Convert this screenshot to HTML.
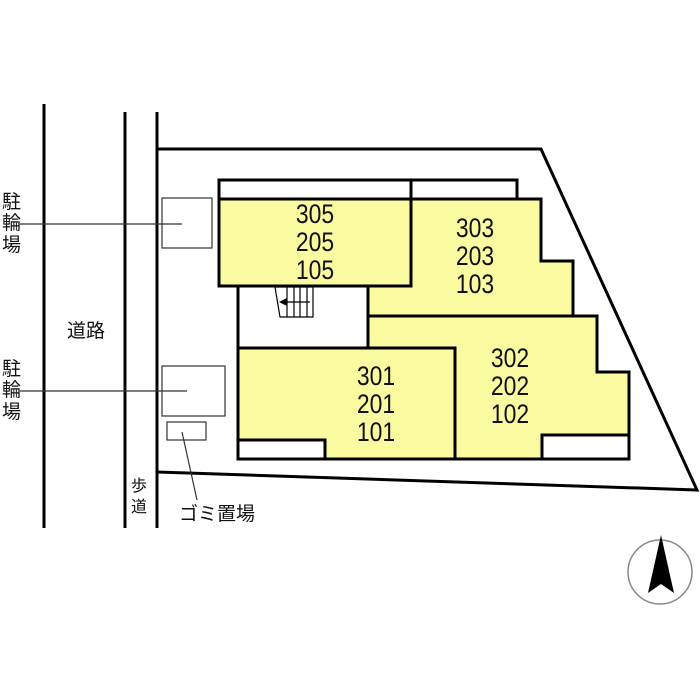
<!DOCTYPE html>
<html><head><meta charset="utf-8"><style>
body{margin:0;background:#fff;}
svg{display:block;font-family:"Liberation Sans","Noto Sans CJK JP",sans-serif;}
</style></head><body>
<svg width="700" height="700" viewBox="0 0 700 700">
<g stroke="#000" stroke-width="3" fill="none">
<line x1="44" y1="104" x2="44" y2="528"/>
<line x1="125" y1="112" x2="125" y2="528"/>
<line x1="157" y1="112" x2="157" y2="528"/>
<polyline points="157,149 541,149 697,490 157,472"/>
</g>
<g stroke="#000" stroke-width="3">
<rect x="219" y="180" width="192" height="19" fill="#fff"/>
<rect x="411" y="180" width="106" height="19" fill="#fff"/>
<rect x="238" y="286" width="130" height="62" fill="#fff"/>
<polygon points="411,199 541,199 541,261 573,261 573,316 368,316 368,286 411,286" fill="#fafaa0"/>
<rect x="219" y="199" width="192" height="87" fill="#fafaa0"/>
<polygon points="368,316 597,316 597,372 629,372 629,459 455,459 455,348 368,348" fill="#fafaa0"/>
<rect x="542" y="435" width="87" height="24" fill="#fff"/>
<rect x="238" y="348" width="217" height="111" fill="#fafaa0"/>
<rect x="238" y="440" width="87" height="19" fill="#fff"/>
</g>
<g stroke="#000" stroke-width="1.2" fill="none">
<polygon points="275,287 313,287 313,317 280,317"/>
<line x1="287" y1="287" x2="287" y2="317"/><line x1="294" y1="287" x2="294" y2="317"/><line x1="300" y1="287" x2="300" y2="317"/><line x1="307" y1="287" x2="307" y2="317"/>
<line x1="285" y1="302" x2="310" y2="302"/>
</g>
<polygon points="279,302 287,298 287,306" fill="#000"/>
<g stroke="#333" stroke-width="1.2" fill="#fff">
<rect x="162" y="198" width="50" height="50"/>
<rect x="162" y="366" width="63" height="50"/>
<rect x="167" y="422" width="39" height="18"/>
<line x1="20" y1="224" x2="182" y2="224"/>
<line x1="20" y1="391" x2="187" y2="391"/>
<line x1="182" y1="432" x2="197" y2="500"/>
</g>
<g font-size="27" text-anchor="middle" fill="#111">
<g transform="translate(315,0) scale(0.85,1)"><text x="0" y="223">305</text><text x="0" y="251">205</text><text x="0" y="279">105</text></g>
<g transform="translate(475,0) scale(0.85,1)"><text x="0" y="237">303</text><text x="0" y="265">203</text><text x="0" y="293">103</text></g>
<g transform="translate(510,0) scale(0.85,1)"><text x="0" y="367">302</text><text x="0" y="395">202</text><text x="0" y="423">102</text></g>
<g transform="translate(376,0) scale(0.85,1)"><text x="0" y="385">301</text><text x="0" y="413">201</text><text x="0" y="441">101</text></g>
</g>
<g font-size="19" fill="#111">
<text x="2" y="208">駐</text><text x="2" y="229">輪</text><text x="2" y="251">場</text>
<text x="2" y="375">駐</text><text x="2" y="396">輪</text><text x="2" y="418">場</text>
<text x="67" y="337">道路</text>
<text x="131" y="491" font-size="16">歩</text><text x="131" y="512" font-size="16">道</text>
<text x="179" y="520">ゴミ置場</text>
</g>
<circle cx="660" cy="572" r="32" fill="none" stroke="#888" stroke-width="1.5"/>
<polygon points="661,535 648,593 661,584 674,593" fill="#000"/>
</svg>
</body></html>
